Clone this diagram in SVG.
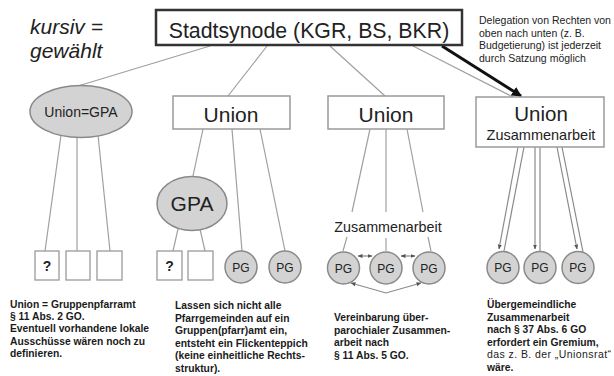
<svg xmlns="http://www.w3.org/2000/svg" width="614" height="376" viewBox="0 0 614 376">
<defs>
<marker id="ah" viewBox="0 0 10 10" refX="9" refY="5" markerWidth="5" markerHeight="5" orient="auto-start-reverse" markerUnits="userSpaceOnUse"><path d="M0,1 L10,5 L0,9 z" fill="#555"/></marker>
<marker id="big" viewBox="0 0 10 10" refX="9" refY="5" markerWidth="10" markerHeight="10" orient="auto" markerUnits="userSpaceOnUse"><path d="M0,0 L10,5 L0,10 z" fill="#111"/></marker>
<style>
.t{font-family:"Liberation Sans",Arial,sans-serif;fill:#222}
.c{text-anchor:middle}
.box{fill:#fff;stroke:#9a9a9a;stroke-width:1.5}
.ell{fill:#d3d3d3;stroke:#8a8a8a;stroke-width:1.5}
.sq{fill:#fff;stroke:#9a9a9a;stroke-width:1.3}
.ln{stroke:#a0a0a0;stroke-width:1.2;fill:none}
.ar{stroke:#8a8a8a;stroke-width:1.2;fill:none}
.pg{font-size:12px}
.note{font-size:10.3px;font-weight:bold;fill:#1a1a1a}
</style>
</defs>
<rect width="614" height="376" fill="#fff"/>

<g id="connectors">
<line class="ln" x1="210" y1="46" x2="78" y2="86"/>
<line class="ln" x1="267" y1="46" x2="228" y2="96"/>
<line class="ln" x1="330" y1="46" x2="385" y2="96"/>
<line class="ln" x1="413" y1="46" x2="513" y2="97"/>
<line x1="442" y1="46" x2="521" y2="96" stroke="#111" stroke-width="3" marker-end="url(#big)"/>
<line class="ln" x1="61" y1="135" x2="45" y2="251"/>
<line class="ln" x1="77" y1="137" x2="77" y2="251"/>
<line class="ln" x1="98" y1="135" x2="110" y2="251"/>
<line class="ln" x1="203" y1="129" x2="193" y2="176"/>
<line class="ln" x1="232" y1="129" x2="242" y2="251"/>
<line class="ln" x1="260" y1="129" x2="285" y2="251"/>
<line class="ln" x1="178" y1="229" x2="173" y2="251"/>
<line class="ln" x1="200" y1="229" x2="205" y2="251"/>
<line class="ln" x1="370" y1="129" x2="352" y2="212"/>
<line class="ln" x1="386" y1="129" x2="386" y2="212"/>
<line class="ln" x1="407" y1="129" x2="423" y2="212"/>
<line class="ln" x1="347" y1="237" x2="343" y2="251"/>
<line class="ln" x1="386" y1="238" x2="386" y2="251"/>
<line class="ln" x1="428" y1="237" x2="431" y2="251"/>
<line class="ar" x1="358" y1="256" x2="372" y2="256" marker-start="url(#ah)" marker-end="url(#ah)"/>
<line class="ar" x1="401" y1="256" x2="415" y2="256" marker-start="url(#ah)" marker-end="url(#ah)"/>
<polyline class="ar" points="351,283 386,293 421,283" marker-start="url(#ah)" marker-end="url(#ah)"/>
<line class="ar" x1="518" y1="147" x2="499" y2="249" marker-end="url(#ah)"/>
<line class="ar" x1="524" y1="147" x2="504" y2="251"/>
<line class="ar" x1="535" y1="147" x2="535" y2="249" marker-end="url(#ah)"/>
<line class="ar" x1="540" y1="147" x2="540" y2="251"/>
<line class="ar" x1="557" y1="147" x2="577" y2="249" marker-end="url(#ah)"/>
<line class="ar" x1="562" y1="147" x2="583" y2="252"/>
</g>

<g id="legend">
<text class="t" x="30" y="34" font-size="21" font-style="italic">kursiv =</text>
<text class="t" x="30" y="58" font-size="21" font-style="italic">gewählt</text>
</g>

<g id="stadtsynode">
<rect x="156" y="10" width="306" height="35" fill="#fff" stroke="#333" stroke-width="2.5"/>
<text class="t c" x="309" y="38" font-size="21.3">Stadtsynode (KGR, BS, BKR)</text>
</g>

<g id="delegation-note">
<text class="t" x="479" y="24" font-size="10.5" fill="#333">Delegation von Rechten von</text>
<text class="t" x="479" y="36.5" font-size="10.5" fill="#333">oben nach unten (z. B.</text>
<text class="t" x="479" y="49" font-size="10.5" fill="#333">Budgetierung) ist jederzeit</text>
<text class="t" x="479" y="61.5" font-size="10.5" fill="#333">durch Satzung möglich</text>
</g>

<g id="union-gpa">
<ellipse class="ell" cx="81" cy="111.5" rx="51" ry="26"/>
<text class="t c" x="81" y="117" font-size="14">Union=GPA</text>
</g>
<g id="c1-sq1"><rect class="sq" x="35" y="251" width="24" height="29"/><text class="t c" x="47" y="271" font-size="14" font-weight="bold">?</text></g>
<g id="c1-sq2"><rect class="sq" x="66" y="251" width="24" height="29"/></g>
<g id="c1-sq3"><rect class="sq" x="97" y="251" width="25" height="29"/></g>

<g id="union2">
<rect class="box" x="173" y="96" width="117" height="33"/>
<text class="t c" x="231" y="122" font-size="21">Union</text>
</g>
<g id="gpa">
<ellipse class="ell" cx="192" cy="203.5" rx="35" ry="27"/>
<text class="t c" x="192" y="211" font-size="21">GPA</text>
</g>
<g id="c2-sq1"><rect class="sq" x="157" y="251" width="25" height="29"/><text class="t c" x="169.5" y="271" font-size="14" font-weight="bold">?</text></g>
<g id="c2-sq2"><rect class="sq" x="188" y="251" width="25" height="29"/></g>
<g id="c2-pg1"><circle class="ell" cx="241" cy="267" r="16"/><text class="t c pg" x="241" y="271.5">PG</text></g>
<g id="c2-pg2"><circle class="ell" cx="285" cy="267" r="16"/><text class="t c pg" x="285" y="271.5">PG</text></g>

<g id="union3">
<rect class="box" x="328" y="96" width="116" height="33"/>
<text class="t c" x="386" y="122" font-size="21">Union</text>
</g>
<g id="c3-label"><text class="t c" x="388" y="232" font-size="14.3">Zusammenarbeit</text></g>
<g id="c3-pg1"><circle class="ell" cx="343.5" cy="268" r="16"/><text class="t c pg" x="343.5" y="272.5">PG</text></g>
<g id="c3-pg2"><circle class="ell" cx="386" cy="268" r="16"/><text class="t c pg" x="386" y="272.5">PG</text></g>
<g id="c3-pg3"><circle class="ell" cx="429" cy="268" r="16"/><text class="t c pg" x="429" y="272.5">PG</text></g>

<g id="union4">
<rect class="box" x="476" y="97" width="128" height="50"/>
<text class="t c" x="541" y="121" font-size="20.5">Union</text>
<text class="t c" x="541" y="140" font-size="14.5">Zusammenarbeit</text>
</g>
<g id="c4-pg1"><circle class="ell" cx="503" cy="267.5" r="16"/><text class="t c pg" x="503" y="272">PG</text></g>
<g id="c4-pg2"><circle class="ell" cx="540" cy="267.5" r="16"/><text class="t c pg" x="540" y="272">PG</text></g>
<g id="c4-pg3"><circle class="ell" cx="578" cy="267.5" r="16"/><text class="t c pg" x="578" y="272">PG</text></g>

<g id="note1">
<text class="t note" x="10" y="308">Union = Gruppenpfarramt</text>
<text class="t note" x="10" y="320.2">§ 11 Abs. 2 GO.</text>
<text class="t note" x="10" y="332.4">Eventuell vorhandene lokale</text>
<text class="t note" x="10" y="344.6">Ausschüsse wären noch zu</text>
<text class="t note" x="10" y="356.8">definieren.</text>
</g>
<g id="note2">
<text class="t note" x="175" y="309">Lassen sich nicht alle</text>
<text class="t note" x="175" y="321.5">Pfarrgemeinden auf ein</text>
<text class="t note" x="175" y="334">Gruppen(pfarr)amt ein,</text>
<text class="t note" x="175" y="346.5">entsteht ein Flickenteppich</text>
<text class="t note" x="175" y="359">(keine einheitliche Rechts-</text>
<text class="t note" x="175" y="371.5">struktur).</text>
</g>
<g id="note3">
<text class="t note" x="334" y="321">Vereinbarung über-</text>
<text class="t note" x="334" y="333.5">parochialer Zusammen-</text>
<text class="t note" x="334" y="346">arbeit nach</text>
<text class="t note" x="334" y="358.5">§ 11 Abs. 5 GO.</text>
</g>
<g id="note4">
<text class="t note" x="487" y="308">Übergemeindliche</text>
<text class="t note" x="487" y="320.6">Zusammenarbeit</text>
<text class="t note" x="487" y="333.2">nach § 37 Abs. 6 GO</text>
<text class="t note" x="487" y="345.8">erfordert ein Gremium,</text>
<text class="t" x="487" y="358.4" font-size="10.5" fill="#333" textLength="124" lengthAdjust="spacing">das z. B. der „Unionsrat“</text>
<text class="t note" x="487" y="371">wäre.</text>
</g>
</svg>
